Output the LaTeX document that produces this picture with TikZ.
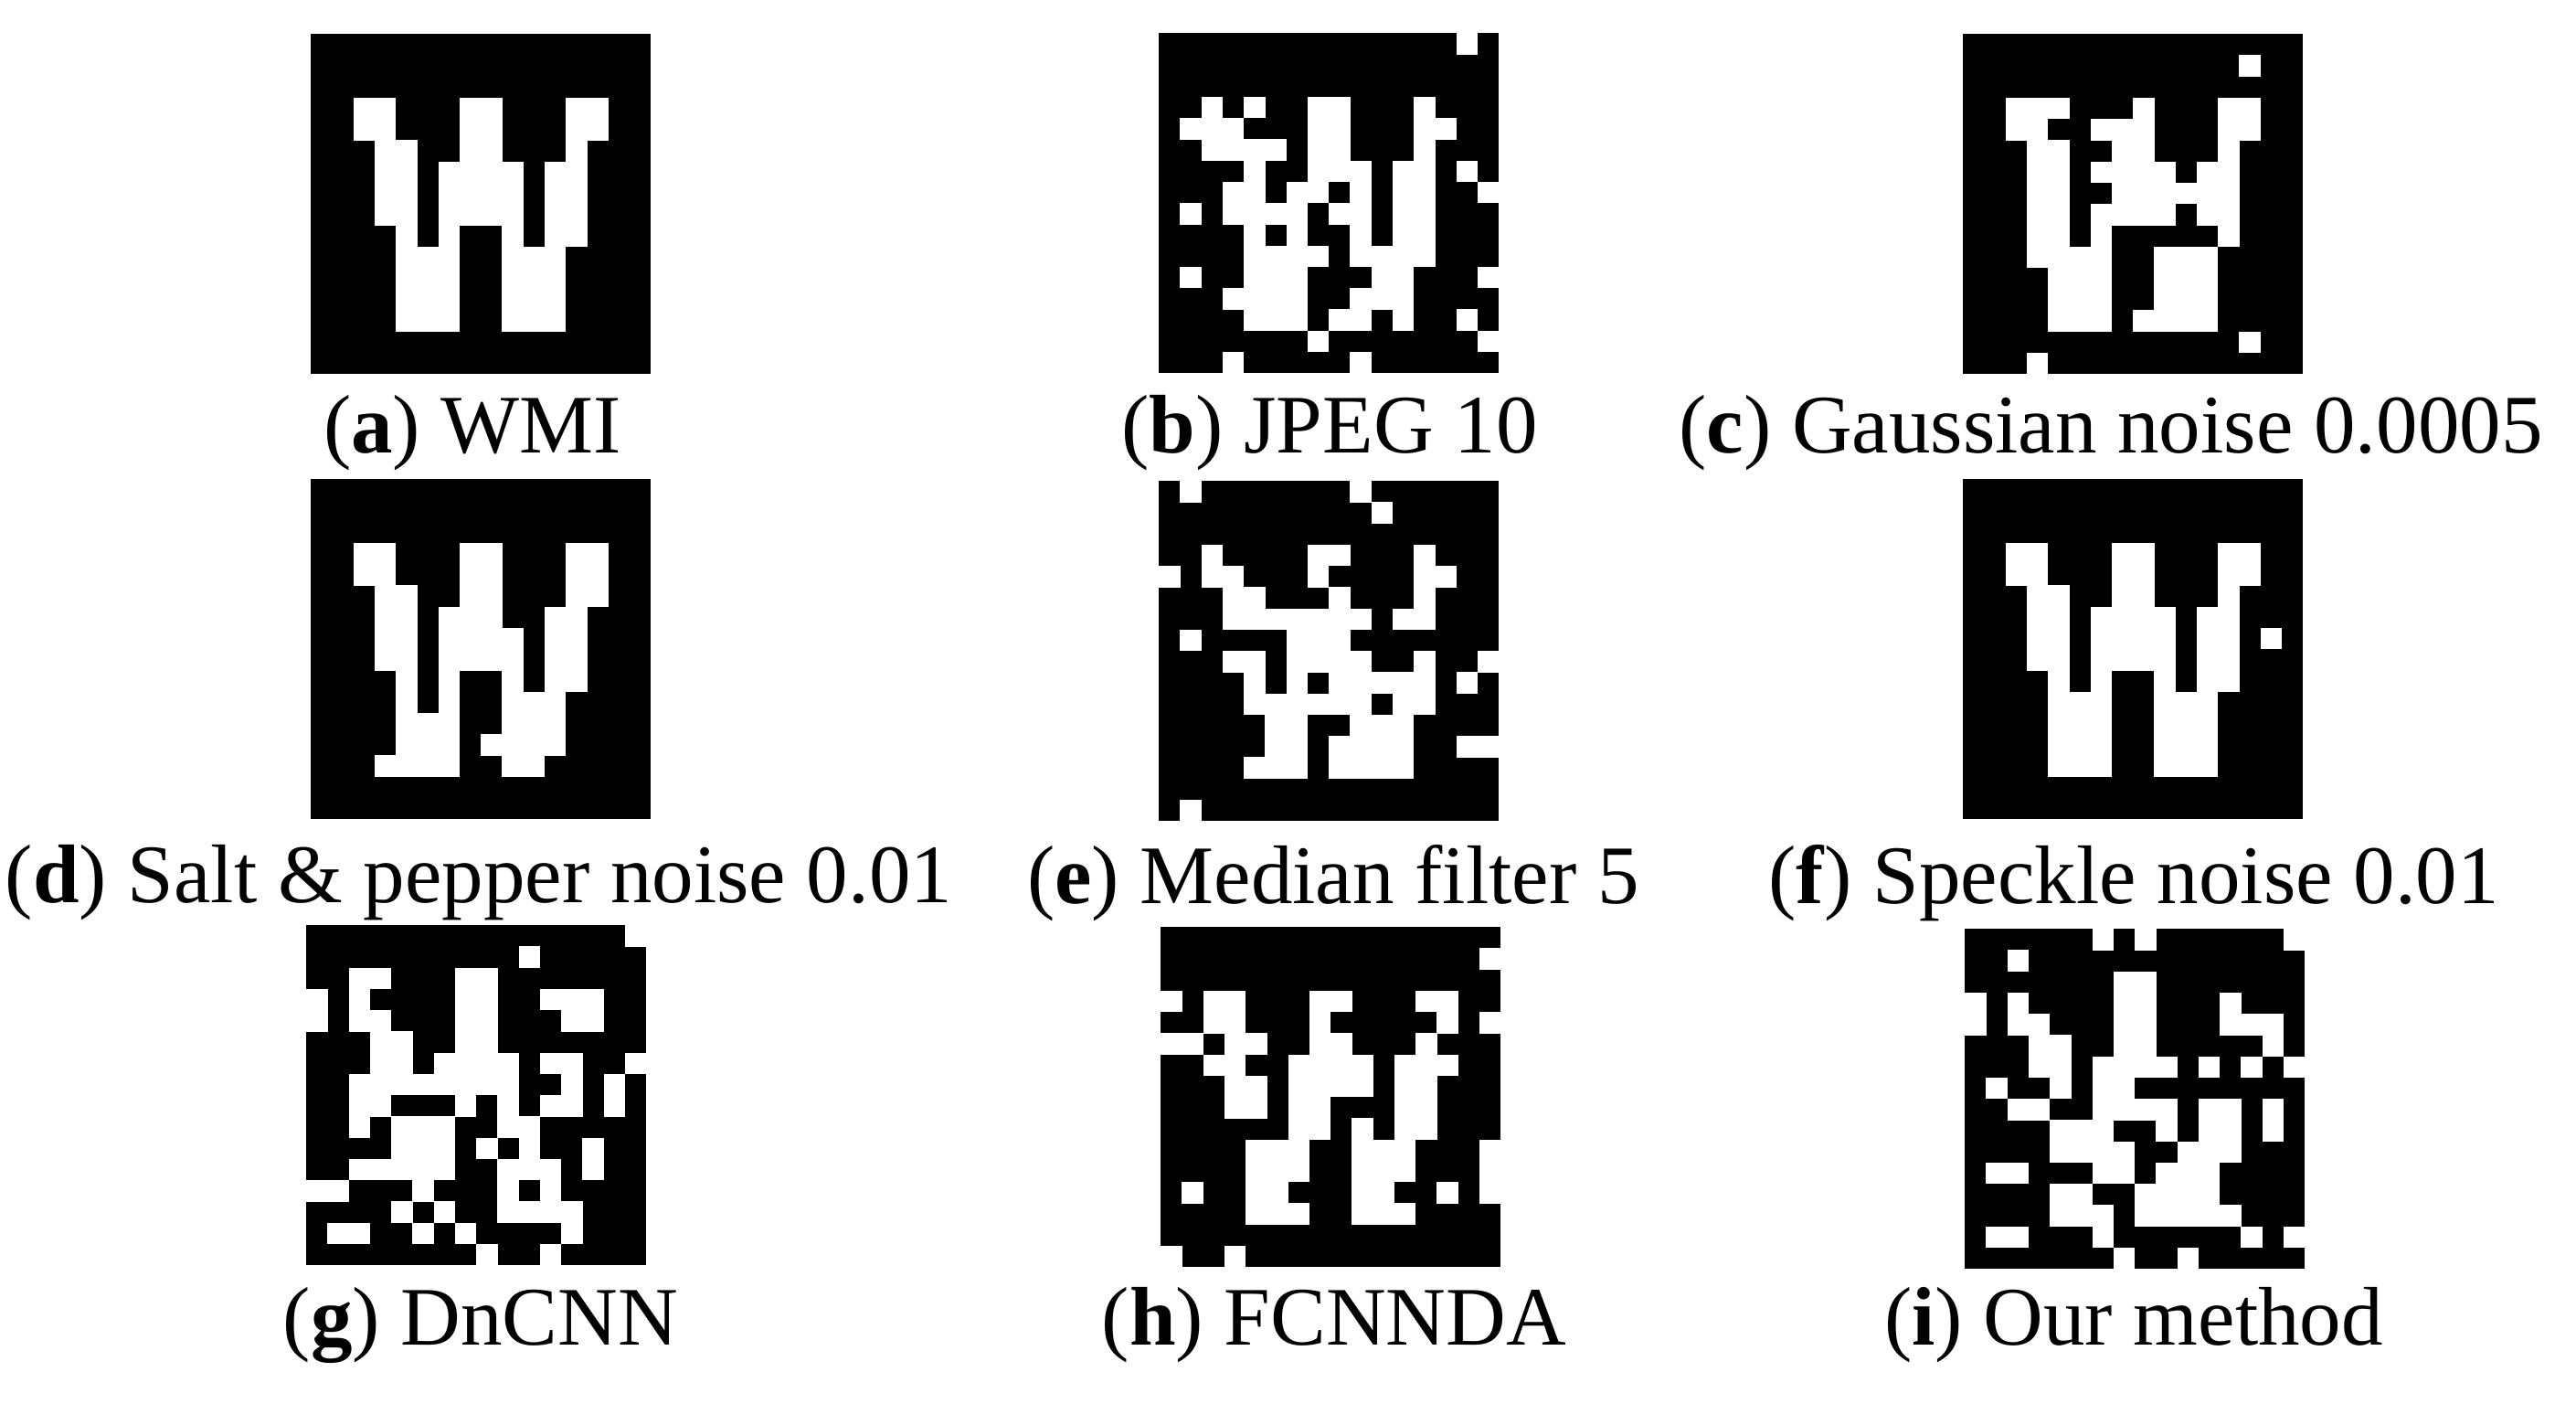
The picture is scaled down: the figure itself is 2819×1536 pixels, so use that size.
\documentclass[tikz,border=0pt]{standalone}
\usepackage{fontspec}
\setmainfont{Liberation Serif}
\newcommand\wmpanel[3]{%
  \fill[black] (#1,#2) rectangle ++(372,372);
  \foreach \r/\cs in {#3} {\foreach \c in \cs {\fill[white] ({#1+\c*23.25},{#2+\r*23.25}) rectangle ++(23.6,23.6);}}%
}
\begin{document}
\begin{tikzpicture}[x=1pt,y=-1pt,
  lab/.style={font=\fontsize{91}{100}\selectfont, anchor=center, inner sep=0pt}]
\useasboundingbox[fill=white] (0,0) rectangle (2819,1536);
% (a)
\wmpanel{340}{37}{3/{2,3,7,8,12,13},4/{2,3,7,8,12,13},5/{3,4,7,8,12},6/{3,4,6,7,8,9,11,12},7/{3,4,6,7,8,9,11,12},8/{3,4,6,7,8,9,11,12},9/{4,6,9,11,12},10/{4,5,6,9,10,11},11/{4,5,6,9,10,11},12/{4,5,6,9,10,11},13/{4,5,6,9,10,11}}
% (b)
\wmpanel{1268}{36}{0/{14},3/{2,4,7,8,12},4/{1,2,3,7,8,12,13},5/{2,3,4,5,7,8,12},6/{4,7,8,9,11,12,14},7/{3,4,6,7,9,11,12,15},8/{1,3,4,5,6,8,9,11,12},9/{4,6,9,11,12},10/{4,5,6,7,9,10,11,12},11/{1,4,5,6,10,11,15},12/{3,4,5,6,9,10,11},13/{4,5,6,8,9,11,14},14/{7,15},15/{3,9}}
% (c)
\wmpanel{2148}{37}{1/{13},3/{2,3,4,8,12,13},4/{2,3,6,7,8,12,13},5/{3,4,7,8,12},6/{3,4,6,7,8,9,11,12},7/{3,4,7,8,9,10,11,12},8/{3,4,6,7,8,9,11,12},9/{3,4,6,12},10/{3,4,5,6,9,10,11},11/{4,5,6,9,10,11},12/{4,5,6,9,10,11},13/{4,5,6,8,9,10,11},14/{13},15/{3}}
% (d)
\wmpanel{340}{524}{3/{2,3,7,8,12,13},4/{2,3,7,8,12,13},5/{3,4,7,8,12,13},6/{3,4,6,7,8,11,12},7/{3,4,6,7,8,9,11,12},8/{3,4,6,7,8,9,11,12},9/{4,6,9,11,12},10/{4,6,9,10,11},11/{4,5,6,9,10,11},12/{4,5,6,8,9,10,11},13/{3,4,5,6,9,10}}
% (e)
\wmpanel{1268}{526}{0/{1,9},1/{10},3/{2,7,8,12},4/{0,2,3,7,12,13},5/{3,4,8,12},6/{3,4,5,6,7,8,9,11,12},7/{1,6,7,8},8/{3,4,6,7,8,9,12,15},9/{4,6,8,9,10,11,12,14},10/{4,5,6,7,8,9,11,12},11/{5,6,9,10,11},12/{5,6,8,9,10,11,14,15},13/{4,5,6,8,9,10,11},15/{1}}
% (f)
\wmpanel{2148}{524}{3/{2,3,7,8,12,13},4/{2,3,7,8,12,13},5/{3,4,7,8,12},6/{3,4,6,7,8,9,11,12},7/{3,4,6,7,8,9,11,12,14},8/{3,4,6,7,8,9,11,12},9/{4,6,9,11,12},10/{4,5,6,9,10,11},11/{4,5,6,9,10,11},12/{4,5,6,9,10,11},13/{4,5,6,9,10,11}}
% (g)
\wmpanel{335}{1012}{0/{15},1/{10},2/{2,3,7,8},3/{0,2,7,8,11,12,13},4/{0,2,3,7,8,12,13},5/{3,4,7,8},6/{3,4,6,7,8,9,11,12,15},7/{2,3,4,5,6,7,8,9,12,14},8/{2,3,7,9,11,12,14},9/{2,4,5,6,9,10},10/{4,5,6,8,10,13},11/{2,3,4,5,6,9,10,11,13},12/{0,1,5,9,11},13/{4,6,9,10,11,12},14/{1,2,5,7,12},15/{8,11}}
% (h)
\wmpanel{1270}{1014}{1/{15},3/{0,2,3,7,8,12,13},4/{2,3,7,13,15},5/{0,1,3,4,7,8,12},6/{2,3,6,7,8,9,11,12,13},7/{3,4,6,7,8,9,11,12},8/{3,4,6,7,11,12},9/{6,7,9,11,12},10/{4,5,6,9,10,11,15},11/{4,5,6,9,10,11,15},12/{1,4,5,9,10,13,15},13/{4,5,6,9,10,11},15/{0,3}}
% (i)
\wmpanel{2150}{1016}{0/{6,8,15},1/{2},2/{7,8},3/{0,2,7,8,12},4/{0,2,3,7,8,12,13,14},5/{3,4,7,8,14},6/{3,4,6,7,8,9,11,13,15},7/{1,4,6,7},8/{2,3,6,7,8,9,11,12,14},9/{4,5,6,9,11,12,14},10/{4,5,6,7,10,11,12},11/{1,2,6,7,9,10,11},12/{4,5,8,9,10,11},13/{4,5,6,8,9,10,11,12},14/{1,2,6,13,15},15/{7,10}}
% labels
\node[lab] (la) at (517,474) {(\textbf{a}) WMI};
\node[lab] (lb) at (1455,474) {(\textbf{b}) JPEG 10};
\node[lab] (lc) at (2310,474) {(\textbf{c}) Gaussian noise 0.0005};
\node[lab] (ld) at (524,966) {(\textbf{d}) Salt \& pepper noise 0.01};
\node[lab] (le) at (1459,966) {(\textbf{e}) Median filter 5};
\node[lab] (lf) at (2335,966) {(\textbf{f}) Speckle noise 0.01};
\node[lab] (lg) at (526,1450) {(\textbf{g}) DnCNN};
\node[lab] (lh) at (1460,1450) {(\textbf{h}) FCNNDA};
\node[lab] (li) at (2335,1450) {(\textbf{i}) Our method};
\end{tikzpicture}
\end{document}
